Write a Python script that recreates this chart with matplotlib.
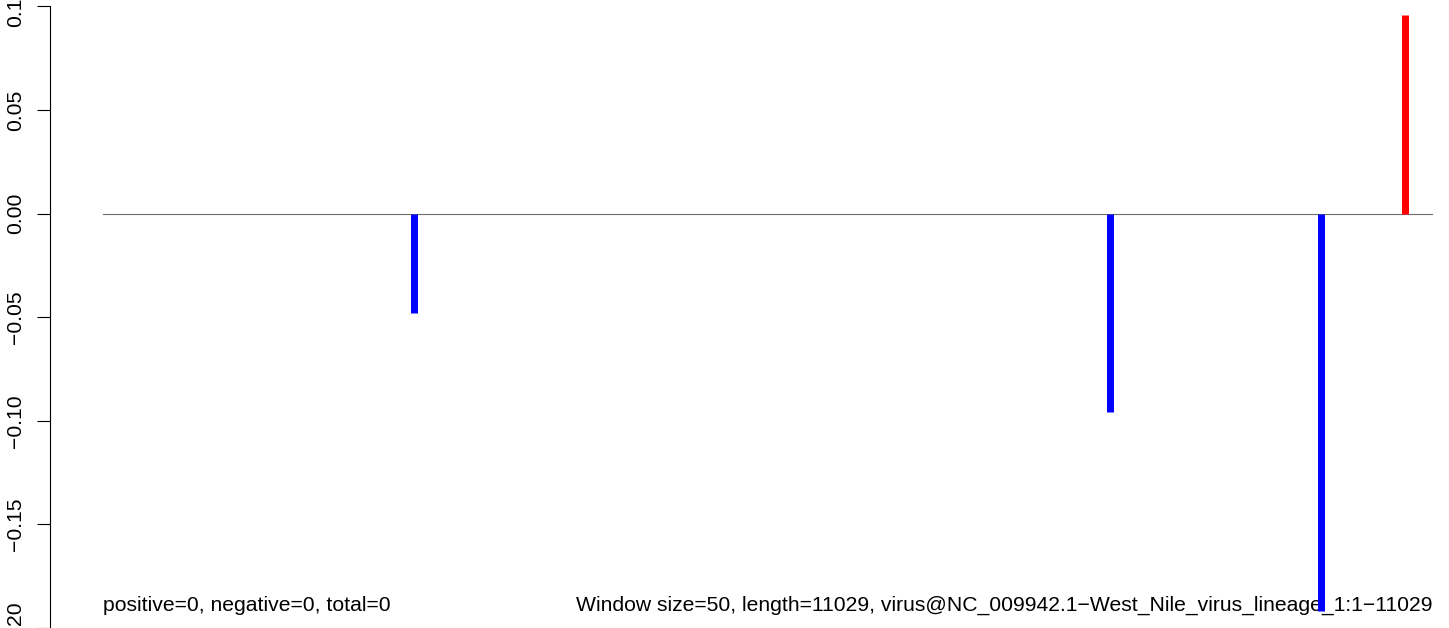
"""Sliding-window score plot for a West Nile virus genome (R style)."""

import matplotlib
matplotlib.use("Agg")
import matplotlib.pyplot as plt

plt.rcParams["font.family"] = ["Liberation Sans", "DejaVu Sans"]

# Data
genome_length = 11029
window_size = 50
seq_name = "virus@NC_009942.1\u2212West_Nile_virus_lineage_1:1\u221211029"
positions = [2584, 8353, 10104, 10809]
scores = [-0.048, -0.096, -0.192, 0.096]
y_ticks = [-0.20, -0.15, -0.10, -0.05, 0.00, 0.05, 0.10]
y_tick_labels = ["\u22120.20", "\u22120.15", "\u22120.10", "\u22120.05", "0.00", "0.05", "0.10"]
n_pos, n_neg, n_total = 0, 0, 0

FS = 15.2

fig = plt.figure(figsize=(14.49, 6.28), dpi=100)
ax = fig.add_axes([0, 0, 1, 1])

# full-figure axes; limits chosen so the genome spans the R plot region
ax.set_xlim(-854, 11170)
ax.set_ylim(-0.19976, 0.10304)

# zero line
ax.plot([1, genome_length], [0, 0], color="#6e6e6e", lw=0.8, zorder=1)

# score bars (R type = "h")
colors = ["red" if s > 0 else "blue" for s in scores]
ax.vlines(positions, 0, scores, colors=colors, lw=5.04, capstyle="butt", zorder=3)

ax.text(1, -0.1916, f"positive={n_pos}, negative={n_neg}, total={n_total}",
        fontsize=FS, ha="left", va="baseline", zorder=2)
ax.text(genome_length, -0.1916,
        f"Window size={window_size}, length={genome_length}, {seq_name}",
        fontsize=FS, ha="right", va="baseline", zorder=2)

# y axis like R's axis(2)
for side in ["top", "right", "bottom"]:
    ax.spines[side].set_visible(False)
ax.spines["left"].set_position(("data", -439))
ax.spines["left"].set_bounds(-0.2, 0.1)
ax.spines["left"].set_linewidth(0.8)
ax.set_yticks(y_ticks)
ax.set_yticklabels(y_tick_labels, rotation=90, va="center", fontsize=FS)
ax.tick_params(axis="y", length=9.4, width=0.8, pad=8.6)
ax.set_xticks([])
ax.patch.set_visible(False)

fig.savefig("out.png", dpi=100)
